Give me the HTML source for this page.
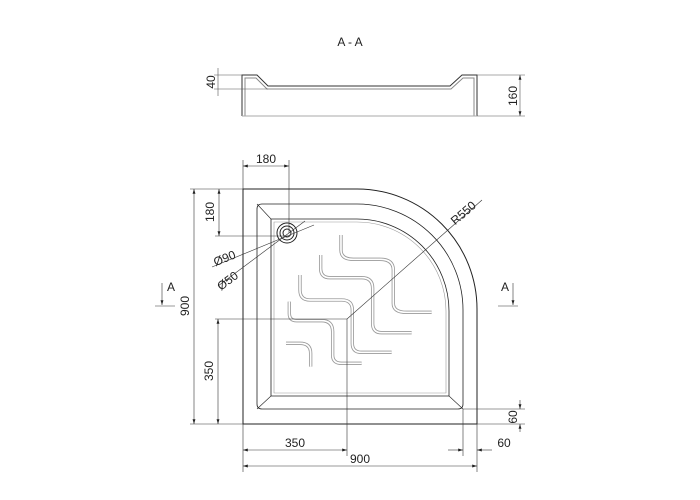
<!DOCTYPE html>
<html><head><meta charset="utf-8"><style>body{margin:0;background:#fff}svg{display:block}text{font-family:"Liberation Sans",sans-serif;font-size:12px;fill:#222}</style></head><body>
<svg width="700" height="500" viewBox="0 0 700 500">
<defs><marker id="a" viewBox="0 0 10 6" refX="10" refY="3" markerWidth="8" markerHeight="5" orient="auto-start-reverse"><path d="M0,0L10,3L0,6z" fill="#222"/></marker></defs>
<text x="350" y="46" text-anchor="middle" font-size="13">A - A</text>
<g fill="none" stroke="#333" stroke-width="1">
<path d="M242,116V75H257L268,86H450L462,75H477V116"/>
<path d="M245,116V78H256L267,89H451L463,78H474V116" stroke="#888"/>
<line x1="242" y1="116" x2="477" y2="116" stroke="#aaa"/>
<line x1="214" y1="75" x2="242" y2="75" stroke="#555" stroke-width=".6"/>
<line x1="214" y1="89" x2="268" y2="89" stroke="#555" stroke-width=".6"/>
<line x1="477" y1="75" x2="525" y2="75" stroke="#555" stroke-width=".6"/>
<line x1="477" y1="116" x2="525" y2="116" stroke="#555" stroke-width=".6"/>
<line x1="218" y1="68" x2="218" y2="96" stroke="#555" stroke-width=".6"/>
<line x1="520" y1="75" x2="520" y2="116" stroke="#555" stroke-width=".6" marker-start="url(#a)" marker-end="url(#a)"/>
</g>
<text transform="translate(215,82) rotate(-90)" text-anchor="middle">40</text>
<text transform="translate(517,96) rotate(-90)" text-anchor="middle">160</text>
<g fill="none" stroke="#222" stroke-width="1">
<path d="M243,189H357A120,120 0 0 1 477,309V424H243Z"/>
<path d="M262,204H357A106,106 0 0 1 463,310V404Q463,409 458,409H262Q257,409 257,404V209Q257,204 262,204Z" stroke-width=".8"/>
<path d="M271,219H357A92,92 0 0 1 449,311V396H271Z" stroke-width=".8"/>
<path d="M257,204L271,219M463,409L449,396M257,409L271,396" stroke-width=".6"/>
<path d="M274,222H357A89,89 0 0 1 446,311V393H274Z" stroke="#999" stroke-width=".6"/>
<circle cx="287" cy="233" r="10"/><circle cx="287" cy="233" r="7"/><circle cx="287" cy="233" r="4"/>
</g>
<g transform="translate(180,150) scale(0.3333)" fill="none">
<g stroke="#999" stroke-width="10">
<path d="M483,255V300Q483,328 520,328H600Q640,328 640,360V460Q640,487 680,487H755"/>
<path d="M422,315V355Q422,383 450,383H545Q578,383 578,415V520Q578,548 605,548H695"/>
<path d="M360,375V420Q360,450 390,450H485Q517,450 517,480V580Q517,607 545,607H635"/>
<path d="M328,455V490Q328,512 350,512H425Q458,512 458,545V615Q458,640 485,640H545"/>
<path d="M318,580H360Q392,580 392,610V650"/>
</g>
<g stroke="#fff" stroke-width="5">
<path d="M483,255V300Q483,328 520,328H600Q640,328 640,360V460Q640,487 680,487H755"/>
<path d="M422,315V355Q422,383 450,383H545Q578,383 578,415V520Q578,548 605,548H695"/>
<path d="M360,375V420Q360,450 390,450H485Q517,450 517,480V580Q517,607 545,607H635"/>
<path d="M328,455V490Q328,512 350,512H425Q458,512 458,545V615Q458,640 485,640H545"/>
<path d="M318,580H360Q392,580 392,610V650"/>
</g></g>
<g fill="none" stroke="#333" stroke-width=".6">
<path d="M243,189V160M289,233V160M190,189H243M190,424H243M215,236H287M215,319H347M347,319V456M243,424V472M477,424V472M463,409V456M477,424H525M463,409H525"/>
<line x1="243" y1="166" x2="289" y2="166" marker-start="url(#a)" marker-end="url(#a)"/>
<line x1="219" y1="189" x2="219" y2="236" marker-start="url(#a)" marker-end="url(#a)"/>
<line x1="194" y1="189" x2="194" y2="424" marker-start="url(#a)" marker-end="url(#a)"/>
<line x1="218" y1="319" x2="218" y2="424" marker-start="url(#a)" marker-end="url(#a)"/>
<line x1="243" y1="450" x2="347" y2="450" marker-start="url(#a)" marker-end="url(#a)"/>
<line x1="243" y1="466" x2="477" y2="466" marker-start="url(#a)" marker-end="url(#a)"/>
<line x1="448" y1="450" x2="463" y2="450" marker-end="url(#a)"/>
<line x1="492" y1="450" x2="477" y2="450" marker-end="url(#a)"/>
<line x1="520" y1="400" x2="520" y2="409" marker-end="url(#a)"/>
<line x1="520" y1="432" x2="520" y2="424" marker-end="url(#a)"/>
<line x1="347" y1="319" x2="482" y2="200"/>
<line x1="212" y1="267" x2="314" y2="225"/>
<line x1="218" y1="286" x2="305" y2="221"/>
<path d="M155,306H175M498,306H518"/>
<line x1="162" y1="283" x2="162" y2="305" marker-end="url(#a)"/>
<line x1="513" y1="283" x2="513" y2="305" marker-end="url(#a)"/>
</g>
<text x="266" y="163" text-anchor="middle">180</text>
<text transform="translate(214,212) rotate(-90)" text-anchor="middle">180</text>
<text transform="translate(189,306) rotate(-90)" text-anchor="middle">900</text>
<text transform="translate(213,371) rotate(-90)" text-anchor="middle">350</text>
<text x="295" y="447" text-anchor="middle">350</text>
<text x="360" y="463" text-anchor="middle">900</text>
<text x="504" y="447" text-anchor="middle">60</text>
<text transform="translate(517,417) rotate(-90)" text-anchor="middle">60</text>
<text transform="translate(466,216) rotate(-41)" text-anchor="middle">R550</text>
<text transform="translate(226,262) rotate(-22)" text-anchor="middle">Ø90</text>
<text transform="translate(230,284) rotate(-37)" text-anchor="middle">Ø50</text>
<text x="171" y="291" text-anchor="middle">A</text>
<text x="505" y="291" text-anchor="middle">A</text>
</svg></body></html>
